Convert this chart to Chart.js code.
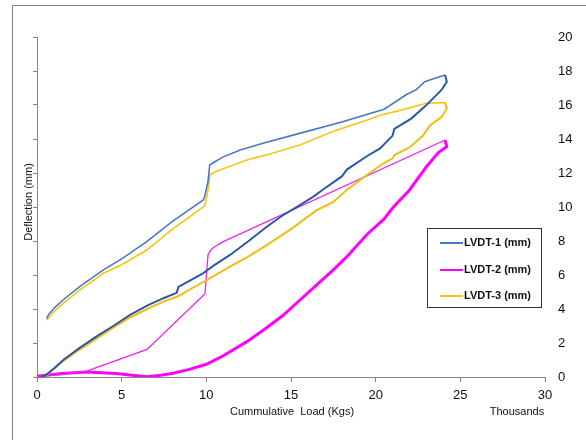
<!DOCTYPE html>
<html>
<head>
<meta charset="utf-8">
<script src="https://cdn.jsdelivr.net/npm/chart.js@4"></script>
<style>
  body { margin: 0; background: #fff; }
  canvas { display: block; }
</style>
</head>
<body>
<canvas id="chart" width="586" height="440"></canvas>
<script>
// DATA (load in thousands of kg, deflection in mm)
let xTicks = [0, 5, 10, 15, 20, 25, 30];
let yTicks = [0, 2, 4, 6, 8, 10, 12, 14, 16, 18, 20];
let seriesNames = ["LVDT-1 (mm)", "LVDT-2 (mm)", "LVDT-3 (mm)"];

let lvdt1Load = [
  [0.3, 0], [0.5, 0.1], [1.0, 0.5], [1.55, 1.0], [2.5, 1.7], [3.5, 2.37], [4.5, 3.0],
  [5.5, 3.65], [6.5, 4.2], [7.5, 4.65], [8.25, 4.95], [8.35, 5.3], [9.0, 5.65],
  [9.8, 6.1], [10.5, 6.6], [11.4, 7.18], [12.5, 8.0], [13.57, 8.84], [14.5, 9.5],
  [15.5, 10.1], [16.3, 10.6], [17.0, 11.1], [18.0, 11.8], [18.3, 12.2], [19.5, 13.0],
  [20.26, 13.45], [21.0, 14.2], [21.1, 14.6], [22.1, 15.2], [23.0, 16.0], [23.2, 16.2],
  [23.9, 16.9], [24.2, 17.37], [24.1, 17.76]
];
let lvdt1Unload = [
  [24.1, 17.76], [23.5, 17.57], [22.9, 17.37], [22.4, 16.9], [21.8, 16.6], [20.5, 15.75],
  [18.0, 15.0], [15.5, 14.33], [13.5, 13.8], [12.0, 13.35], [11.0, 12.95], [10.4, 12.6],
  [10.2, 12.47], [10.1, 11.5], [9.9, 10.6], [9.82, 10.41], [8.0, 9.15], [6.48, 7.96],
  [5.0, 6.95], [3.92, 6.3], [2.5, 5.3], [1.5, 4.5], [1.06, 4.1], [0.7, 3.7], [0.57, 3.45]
];

let lvdt2Load = [
  [0, 0.05], [0.5, 0.1], [1.5, 0.2], [2.9, 0.3], [3.8, 0.25], [4.7, 0.2], [5.6, 0.1],
  [6.5, 0.02], [7.3, 0.1], [8.05, 0.22], [9.0, 0.45], [10.0, 0.75], [11.0, 1.25],
  [12.4, 2.08], [13.5, 2.85], [14.5, 3.6], [15.5, 4.5], [16.5, 5.4], [17.5, 6.3],
  [18.3, 7.08], [19.5, 8.4], [20.5, 9.3], [21.05, 10.0], [22.0, 11.0], [23.0, 12.37],
  [23.7, 13.2], [24.2, 13.55], [24.1, 13.94]
];
let lvdt2Unload = [
  [24.1, 13.94], [11.0, 7.96], [10.4, 7.6], [10.22, 7.4], [10.1, 7.2], [9.92, 4.9],
  [6.5, 1.62], [2.93, 0.35], [1.5, 0.15], [0.3, 0.05]
];

let lvdt3Load = [
  [0.3, 0], [0.5, 0.05], [1.5, 0.9], [2.5, 1.6], [3.53, 2.27], [4.5, 2.9], [5.5, 3.5],
  [6.5, 4.0], [7.5, 4.45], [8.25, 4.72], [8.5, 4.85], [9.2, 5.25], [10.02, 5.7],
  [11.4, 6.49], [12.5, 7.1], [13.57, 7.76], [15.0, 8.7], [16.5, 9.8], [17.5, 10.3],
  [18.29, 11.0], [19.5, 11.9], [20.5, 12.6], [21.0, 12.86], [21.1, 13.06], [22.0, 13.5],
  [22.8, 14.2], [23.2, 14.8], [23.9, 15.3], [24.2, 15.8], [24.1, 16.14]
];
let lvdt3Unload = [
  [24.1, 16.14], [23.0, 16.1], [21.5, 15.7], [20.26, 15.4], [19.47, 15.1], [17.5, 14.45],
  [15.53, 13.65], [13.5, 13.05], [12.5, 12.8], [11.4, 12.4], [10.6, 12.1], [10.22, 11.9],
  [10.1, 11.0], [9.92, 10.1], [9.82, 10.0], [8.0, 8.7], [6.48, 7.47], [5.0, 6.6],
  [3.92, 6.1], [2.5, 5.1], [1.5, 4.3], [1.0, 3.85], [0.57, 3.35]
];

let colors = ["#4a78c4", "#ff00ff", "#f5c518"];
let font = "'Liberation Sans', Arial, sans-serif";

function pts(arr) {
  return arr.map(p => ({ x: p[0], y: p[1] }));
}

function line(data, color, width) {
  return {
    data: pts(data),
    borderColor: color,
    borderWidth: width,
    pointRadius: 0,
    showLine: true,
    tension: 0,
    fill: false
  };
}

// frame, titles and legend drawn on the canvas
const decor = {
  id: "decor",
  afterDraw(chart) {
    const ctx = chart.ctx;
    ctx.save();

    ctx.strokeStyle = "#7f7f7f";
    ctx.lineWidth = 1;
    ctx.beginPath();
    ctx.moveTo(12.5, 440);
    ctx.lineTo(12.5, 5.5);
    ctx.lineTo(586, 5.5);
    ctx.stroke();

    ctx.fillStyle = "#111";
    ctx.font = "11px " + font;
    ctx.textAlign = "center";
    ctx.textBaseline = "middle";
    ctx.fillText("Cummulative  Load (Kgs)", 292, 412);
    ctx.fillText("Thousands", 517, 412);

    ctx.save();
    ctx.translate(29, 202);
    ctx.rotate(-Math.PI / 2);
    ctx.fillText("Deflection (mm)", 0, 0);
    ctx.restore();

    // legend
    ctx.fillStyle = "#fff";
    ctx.fillRect(427, 228, 114, 79);
    ctx.strokeStyle = "#333";
    ctx.strokeRect(427.5, 228.5, 114, 79);
    ctx.font = "bold 11px " + font;
    ctx.textAlign = "left";
    let rows = [243, 270, 296];
    seriesNames.forEach((name, i) => {
      ctx.strokeStyle = colors[i];
      ctx.lineWidth = 2;
      ctx.beginPath();
      ctx.moveTo(440, rows[i]);
      ctx.lineTo(463, rows[i]);
      ctx.stroke();
      ctx.fillStyle = "#111";
      ctx.fillText(name, 464, rows[i]);
    });

    ctx.restore();
  }
};

new Chart(document.getElementById("chart"), {
  type: "scatter",
  data: {
    datasets: [
      line(lvdt1Load, "#2c57a6", 2),
      line(lvdt1Unload, "#4a78c4", 1.6),
      line(lvdt3Load, "#f2bd10", 2),
      line(lvdt3Unload, "#f5c518", 1.6),
      line(lvdt2Unload, "#ee22ee", 1.3),
      line(lvdt2Load, "#ff00ff", 3)
    ]
  },
  options: {
    responsive: false,
    animation: false,
    layout: { padding: { top: 37, left: 0, right: 0, bottom: 0 } },
    plugins: {
      legend: { display: false },
      tooltip: { enabled: false }
    },
    scales: {
      x: {
        type: "linear",
        min: xTicks[0],
        max: xTicks[xTicks.length - 1],
        afterBuildTicks: s => { s.ticks = xTicks.map(v => ({ value: v })); },
        afterFit: s => { s.height = 63; },
        ticks: { color: "#111", font: { family: font, size: 13 }, padding: 6 },
        grid: { drawOnChartArea: false, tickLength: 5, color: "#868686" },
        border: { color: "#868686" }
      },
      y: {
        position: "left",
        min: 0,
        max: 20,
        afterBuildTicks: s => { s.ticks = yTicks.map(v => ({ value: v })); },
        afterFit: s => { s.width = 37; },
        ticks: { display: false },
        grid: { drawOnChartArea: false, tickLength: 4, color: "#868686" },
        border: { color: "#868686" }
      },
      y2: {
        position: "right",
        min: 0,
        max: 20,
        afterBuildTicks: s => { s.ticks = yTicks.map(v => ({ value: v })); },
        afterFit: s => { s.width = 41; },
        ticks: { color: "#111", font: { family: font, size: 13 }, padding: 13 },
        grid: { display: false, drawTicks: false },
        border: { display: false }
      }
    }
  },
  plugins: [decor]
});
</script>
</body>
</html>
